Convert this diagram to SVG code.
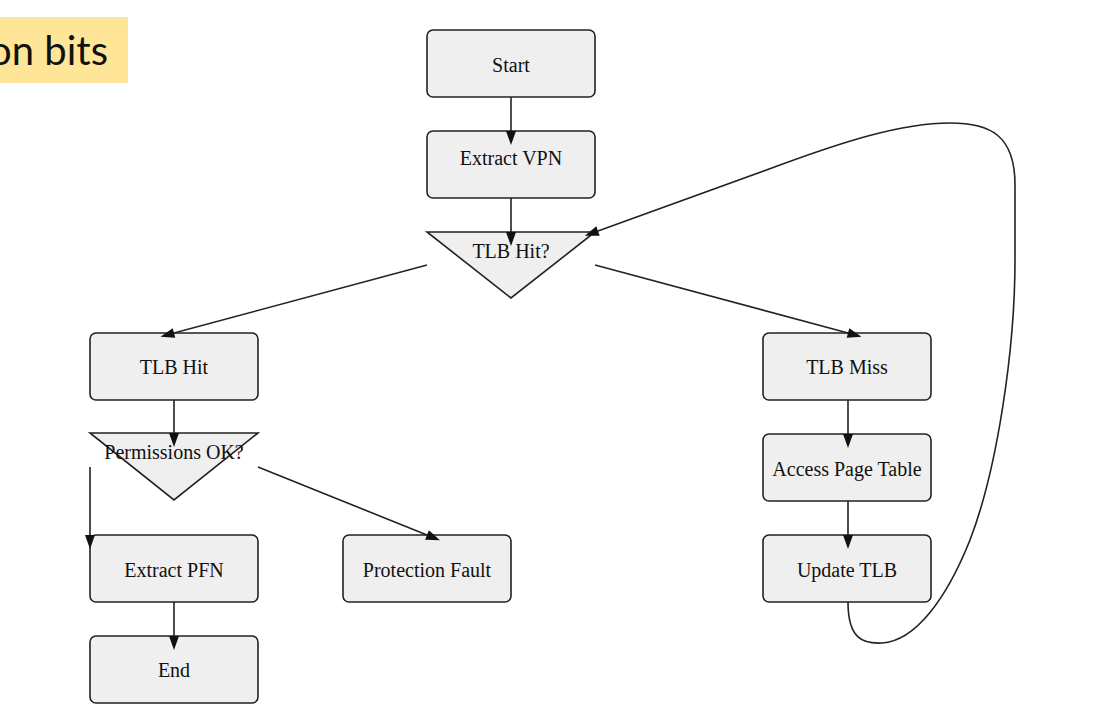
<svg xmlns="http://www.w3.org/2000/svg" width="1097" height="728" viewBox="0 0 1097 728">
  <style>
    .box { fill: #efefef; stroke: #222; stroke-width: 1.6; }
    .tri { fill: #efefef; stroke: #222; stroke-width: 1.6; }
    .lbl { font-family: "Liberation Serif", "Times New Roman", serif; font-size: 20px; fill: #111; text-anchor: middle; }
    .edge { fill: none; stroke: #222; stroke-width: 1.6; }
  </style>
  <defs>
    <marker id="arrow" markerUnits="userSpaceOnUse" markerWidth="16" markerHeight="12" refX="0" refY="5" orient="auto" overflow="visible">
      <path d="M0,0 L14,5 L0,10 z" fill="#111"/>
    </marker>
  </defs>
  <rect width="1097" height="728" fill="#ffffff"/>

  <g id="note">
    <rect x="0" y="17" width="128" height="66" fill="#ffe597"/>
    <text x="108" y="65" font-family="Lato, 'Noto Sans', sans-serif" font-size="40" fill="#111" text-anchor="end">on bits</text>
  </g>

  <g id="start">
    <rect class="box" x="427" y="30" width="168" height="67" rx="6"/>
    <text class="lbl" x="511" y="72">Start</text>
  </g>
  <g id="extract-vpn">
    <rect class="box" x="427" y="131" width="168" height="67" rx="6"/>
    <text class="lbl" x="511" y="165">Extract VPN</text>
  </g>
  <g id="tlb-hit-q">
    <polygon class="tri" points="427,232 595,232 511,298"/>
    <text class="lbl" x="511" y="258">TLB Hit?</text>
  </g>
  <g id="tlb-hit">
    <rect class="box" x="90" y="333" width="168" height="67" rx="6"/>
    <text class="lbl" x="174" y="374">TLB Hit</text>
  </g>
  <g id="permissions-q">
    <polygon class="tri" points="90,433 258,433 174,500"/>
    <text class="lbl" x="174" y="459">Permissions OK?</text>
  </g>
  <g id="extract-pfn">
    <rect class="box" x="90" y="535" width="168" height="67" rx="6"/>
    <text class="lbl" x="174" y="577">Extract PFN</text>
  </g>
  <g id="end">
    <rect class="box" x="90" y="636" width="168" height="67" rx="6"/>
    <text class="lbl" x="174" y="677">End</text>
  </g>
  <g id="protection-fault">
    <rect class="box" x="343" y="535" width="168" height="67" rx="6"/>
    <text class="lbl" x="427" y="577">Protection Fault</text>
  </g>
  <g id="tlb-miss">
    <rect class="box" x="763" y="333" width="168" height="67" rx="6"/>
    <text class="lbl" x="847" y="374">TLB Miss</text>
  </g>
  <g id="access-page-table">
    <rect class="box" x="763" y="434" width="168" height="67" rx="6"/>
    <text class="lbl" x="847" y="476">Access Page Table</text>
  </g>
  <g id="update-tlb">
    <rect class="box" x="763" y="535" width="168" height="67" rx="6"/>
    <text class="lbl" x="847" y="577">Update TLB</text>
  </g>

  <g id="connectors">
    <line class="edge" x1="511" y1="97" x2="511" y2="131" marker-end="url(#arrow)"/>
    <line class="edge" x1="511" y1="198" x2="511" y2="232" marker-end="url(#arrow)"/>
    <line class="edge" x1="427" y1="265" x2="174" y2="333" marker-end="url(#arrow)"/>
    <line class="edge" x1="595" y1="265" x2="848" y2="333" marker-end="url(#arrow)"/>
    <line class="edge" x1="174" y1="400" x2="174" y2="433" marker-end="url(#arrow)"/>
    <line class="edge" x1="90" y1="467" x2="90" y2="535" marker-end="url(#arrow)"/>
    <line class="edge" x1="258" y1="467" x2="427" y2="535" marker-end="url(#arrow)"/>
    <line class="edge" x1="174" y1="602" x2="174" y2="636" marker-end="url(#arrow)"/>
    <line class="edge" x1="848" y1="400" x2="848" y2="434" marker-end="url(#arrow)"/>
    <line class="edge" x1="848" y1="501" x2="848" y2="535" marker-end="url(#arrow)"/>
    <path class="edge" d="M848,602 C848,638 862,644 882,643 C915,641 946,600 970,540 C997,470 1015,350 1015,260 L1015,185 C1015,135 990,123 950,123 C900,123 840,143 780,165 L598,231" marker-end="url(#arrow)"/>
  </g>
</svg>
